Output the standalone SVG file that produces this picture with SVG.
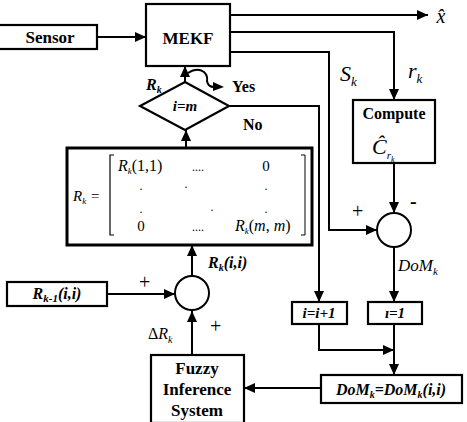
<svg xmlns="http://www.w3.org/2000/svg" width="467" height="422" viewBox="0 0 467 422">
<defs>
<marker id="ah" markerUnits="userSpaceOnUse" markerWidth="12" markerHeight="10" refX="11" refY="5" orient="auto">
<path d="M0,0 L11,5 L0,10 Z" fill="#000"/>
</marker>
<style>
.box{fill:#fff;stroke:#000;stroke-width:2.2}
.thick{fill:#fff;stroke:#000;stroke-width:3}
.ln{fill:none;stroke:#000;stroke-width:2}
.b{font-family:"Liberation Serif","Times New Roman",serif;font-weight:bold;fill:#000}
.bi{font-family:"Liberation Serif","Times New Roman",serif;font-weight:bold;font-style:italic;fill:#000}
.i{font-family:"Liberation Serif","Times New Roman",serif;font-style:italic;fill:#000}
.r{font-family:"Liberation Serif","Times New Roman",serif;fill:#000}
</style>
</defs>
<rect width="467" height="422" fill="#fff"/>

<g id="connectors">
<line class="ln" x1="97" y1="37" x2="146" y2="37" marker-end="url(#ah)"/>
<line class="ln" x1="230" y1="15" x2="428" y2="15" marker-end="url(#ah)"/>
<polyline class="ln" points="230,32 394,32 394,100" marker-end="url(#ah)"/>
<polyline class="ln" points="230,52 329,52 329,230 377,230" marker-end="url(#ah)"/>
<line class="ln" x1="185" y1="82" x2="185" y2="66" marker-end="url(#ah)"/>
<path class="ln" d="M188,73 Q197,67 204,72 Q208,76 207,81 Q208,87 214,87" stroke-width="1.6"/>
<path d="M213,82 L224,87 L213,91 Z" fill="#000"/>
<polyline class="ln" points="229,106 319,106 319,302" marker-end="url(#ah)"/>
<line class="ln" x1="186" y1="148" x2="186" y2="130" marker-end="url(#ah)"/>
<line class="ln" x1="192" y1="276" x2="192" y2="245" marker-end="url(#ah)"/>
<line class="ln" x1="107" y1="294" x2="175" y2="294" marker-end="url(#ah)"/>
<line class="ln" x1="192" y1="355" x2="192" y2="311" marker-end="url(#ah)"/>
<line class="ln" x1="394" y1="163" x2="394" y2="213" marker-end="url(#ah)"/>
<line class="ln" x1="394" y1="247" x2="394" y2="302" marker-end="url(#ah)"/>
<polyline class="ln" points="319,324 319,350 394,350" marker-end="url(#ah)"/>
<line class="ln" x1="394" y1="324" x2="394" y2="375" marker-end="url(#ah)"/>
<line class="ln" x1="321" y1="388" x2="244" y2="388" marker-end="url(#ah)"/>
</g>

<g id="sensor">
<rect class="box" x="-2" y="25" width="99" height="24"/>
<text class="b" x="50" y="43" font-size="17" text-anchor="middle">Sensor</text>
</g>

<g id="mekf">
<rect class="box" x="146" y="4" width="84" height="62"/>
<text class="b" x="188" y="44" font-size="17" text-anchor="middle">MEKF</text>
</g>

<g id="xhat">
<text class="i" x="441" y="23" font-size="20" text-anchor="middle">x̂</text>
</g>

<g id="labels-top">
<text class="i" x="340" y="81" font-size="22">S<tspan font-size="13" dy="5">k</tspan></text>
<text class="i" x="408" y="78" font-size="22">r<tspan font-size="13" dy="5">k</tspan></text>
<text class="bi" x="146" y="90" font-size="16">R<tspan font-size="10" dy="3">k</tspan></text>
<text class="b" x="232" y="92" font-size="16">Yes</text>
<text class="b" x="243" y="130" font-size="16">No</text>
</g>

<g id="decision">
<polygon class="box" points="185,82 229,106 185,130 140,106"/>
<text class="bi" x="185" y="111" font-size="15" text-anchor="middle">i=m</text>
</g>

<g id="compute">
<rect class="box" x="353" y="100" width="82" height="63"/>
<text class="b" x="394" y="119" font-size="16" text-anchor="middle">Compute</text>
<text class="i" x="372" y="154" font-size="22">Ĉ<tspan font-size="11" dy="5">r</tspan><tspan font-size="8" dy="3">k</tspan></text>
</g>

<g id="sum-dom">
<circle cx="394" cy="230" r="17" fill="#fff" stroke="#000" stroke-width="2"/>
<text class="r" x="352" y="218" font-size="20">+</text>
<text class="b" x="410" y="208" font-size="20">-</text>
<text class="i" x="398" y="271" font-size="17">DoM<tspan font-size="11" dy="4">k</tspan></text>
</g>

<g id="matrix">
<rect class="thick" x="67" y="148" width="245" height="97"/>
<text class="i" x="73" y="201" font-size="15">R<tspan font-size="9" dy="3">k</tspan><tspan dy="-3"> =</tspan></text>
<path d="M114,155 L110,155 L110,235 L114,235" fill="none" stroke="#000" stroke-width="1.2"/>
<path d="M301,155 L305,155 L305,235 L301,235" fill="none" stroke="#000" stroke-width="1"/>
<text class="r" x="118" y="171" font-size="16"><tspan font-style="italic">R</tspan><tspan font-size="9" font-style="italic" dy="3">k</tspan><tspan dy="-3">(1,1)</tspan></text>
<text class="r" x="198" y="171" font-size="12" text-anchor="middle">....</text>
<text class="r" x="266" y="171" font-size="15" text-anchor="middle">0</text>
<text class="r" x="141" y="190" font-size="12" text-anchor="middle">.</text>
<text class="r" x="186" y="188" font-size="12" text-anchor="middle">.</text>
<text class="r" x="266" y="190" font-size="12" text-anchor="middle">.</text>
<text class="r" x="141" y="213" font-size="12" text-anchor="middle">.</text>
<text class="r" x="212" y="211" font-size="12" text-anchor="middle">.</text>
<text class="r" x="266" y="213" font-size="12" text-anchor="middle">.</text>
<text class="r" x="141" y="231" font-size="15" text-anchor="middle">0</text>
<text class="r" x="198" y="231" font-size="12" text-anchor="middle">....</text>
<text class="r" x="235" y="231" font-size="16"><tspan font-style="italic">R</tspan><tspan font-size="9" font-style="italic" dy="3">k</tspan><tspan dy="-3">(</tspan><tspan font-style="italic">m</tspan>, <tspan font-style="italic">m</tspan>)</text>
</g>

<g id="rk1">
<rect class="box" x="7" y="282" width="100" height="24"/>
<text class="bi" x="57" y="299" font-size="16" text-anchor="middle">R<tspan font-size="11" dy="3">k-1</tspan><tspan dy="-3">(i,i)</tspan></text>
</g>

<g id="sum-r">
<circle cx="192" cy="293" r="17" fill="#fff" stroke="#000" stroke-width="2"/>
<text class="r" x="139" y="289" font-size="20">+</text>
<text class="r" x="210" y="333" font-size="20">+</text>
<text class="r" x="148" y="339" font-size="16">Δ<tspan font-style="italic">R</tspan><tspan font-style="italic" font-size="10" dy="4">k</tspan></text>
<text class="bi" x="208" y="268" font-size="16">R<tspan font-size="10" dy="3">k</tspan><tspan dy="-3">(i,i)</tspan></text>
</g>

<g id="fuzzy">
<rect class="box" x="151" y="355" width="93" height="68"/>
<text class="b" x="197" y="374" font-size="17" text-anchor="middle">Fuzzy</text>
<text class="b" x="197" y="395" font-size="17" text-anchor="middle">Inference</text>
<text class="b" x="197" y="416" font-size="17" text-anchor="middle">System</text>
</g>

<g id="inc">
<rect class="box" x="292" y="302" width="55" height="22"/>
<text class="bi" x="319" y="318" font-size="15" text-anchor="middle">i=i+1</text>
</g>

<g id="reset">
<rect class="box" x="368" y="302" width="54" height="22"/>
<text class="bi" x="395" y="318" font-size="15" text-anchor="middle">ı=1</text>
</g>

<g id="dom">
<rect class="box" x="321" y="375" width="141" height="28"/>
<text class="bi" x="391" y="395" font-size="16" text-anchor="middle">DoM<tspan font-size="10" dy="3">k</tspan><tspan dy="-3">=DoM</tspan><tspan font-size="10" dy="3">k</tspan><tspan dy="-3">(i,i)</tspan></text>
</g>
</svg>
